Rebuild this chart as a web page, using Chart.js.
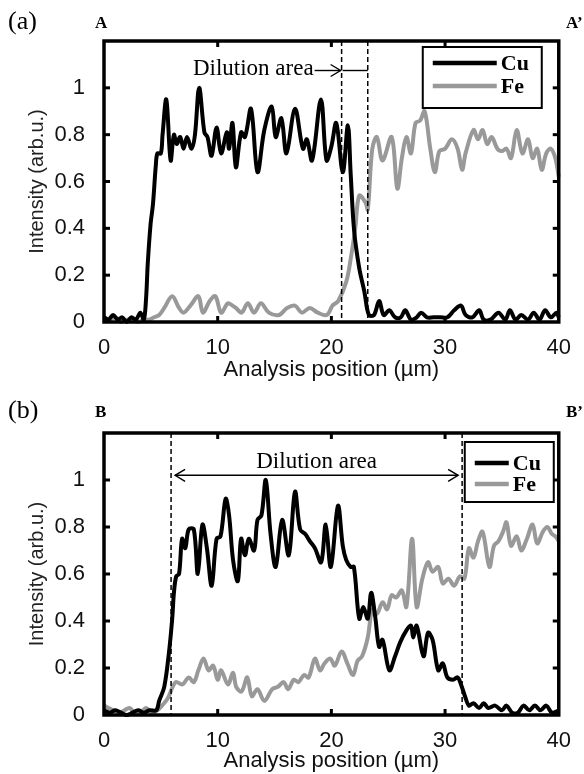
<!DOCTYPE html>
<html>
<head>
  <title>Cu / Fe line scans</title>
  <script src="https://cdn.jsdelivr.net/npm/chart.js"></script>
  <style>
    body { margin: 0; background: #fff; }
    canvas { display: block; }
  </style>
</head>
<body>
  <canvas id="chartA" width="584" height="387"></canvas>
  <canvas id="chartB" width="584" height="387"></canvas>

  <script>
    // ---- panel (a) A-A' ----
    var cuAx = [0, 0.4, 0.8, 1.2, 1.6, 2.0, 2.4, 2.8, 3.2, 3.5, 3.7, 3.85, 4.1, 4.3, 4.56, 4.7, 5.0, 5.15, 5.48, 5.86,
      6.15, 6.4, 6.7, 7.0, 7.3, 7.7, 8.0, 8.37, 8.83, 9.1, 9.46, 9.9, 10.3, 10.8, 11.0, 11.3, 11.6, 12.06, 12.4, 12.93,
      13.5, 14.1, 14.75, 15.1, 15.6, 16.05, 16.8, 17.5, 17.84, 18.3, 19.08, 19.57, 20.0, 20.43, 21.0, 21.45, 21.7, 22.0, 22.45, 22.9,
      23.3, 23.75, 24.2, 24.6, 25.1, 25.6, 26.1, 26.5, 27.0, 27.5, 27.9, 28.4, 29.0, 29.6, 30.2, 30.8, 31.4, 31.8, 32.4, 33.0,
      33.4, 34.0, 34.7, 35.3, 35.7, 36.2, 36.7, 37.3, 37.8, 38.3, 38.8, 39.3, 39.8, 40];
    var cuAy = [0.02, 0.01, 0.03, 0.01, 0.02, 0.0, 0.02, 0.01, 0.04, 0.01, 0.1, 0.25, 0.42, 0.5, 0.67, 0.72, 0.72, 0.8, 0.95, 0.69,
      0.8, 0.76, 0.79, 0.74, 0.79, 0.74, 0.8, 1.0, 0.81, 0.79, 0.71, 0.83, 0.72, 0.81, 0.74, 0.85, 0.66, 0.81, 0.79, 0.91,
      0.64, 0.82, 0.92, 0.79, 0.87, 0.72, 0.91, 0.74, 0.78, 0.69, 0.95, 0.69, 0.75, 0.85, 0.64, 0.84, 0.63, 0.39, 0.23, 0.13,
      0.03, 0.03, 0.09, 0.03, 0.05, 0.02, 0.02, 0.05, 0.01, 0.02, 0.04, 0.02, 0.02, 0.02, 0.02, 0.05, 0.07, 0.03, 0.02, 0.05,
      0.01, 0.01, 0.04, 0.01, 0.05, 0.01, 0.03, 0.01, 0.04, 0.01, 0.05, 0.02, 0.04, 0.02];

    var feAx = [0, 0.5, 1.0, 1.5, 2.0, 2.5, 3.0, 3.5, 4.0, 4.4, 4.85, 5.3, 6.0, 6.6, 7.0, 7.6, 8.3, 8.7, 9.3, 9.8,
      10.3, 10.9, 11.3, 11.6, 12.1, 12.65, 13.2, 13.8, 14.5, 15.4, 16.1, 16.8, 17.4, 18.1, 18.8, 19.6, 20.1, 20.6, 21.3, 21.7,
      22.1, 22.45, 23.0, 23.2, 23.6, 24.0, 24.5, 25.3, 25.8, 26.2, 26.6, 27.0, 27.4, 27.8, 28.2, 28.7, 29.1, 29.5, 30.0, 30.6,
      31.1, 31.5, 31.8, 32.5, 32.9, 33.3, 33.7, 34.1, 34.6, 35.0, 35.4, 35.8, 36.3, 36.8, 37.3, 37.7, 38.1, 38.5, 38.9, 39.3,
      39.7, 40];
    var feAy = [0.02, 0.01, 0.02, 0.0, 0.01, 0.01, 0.0, 0.01, 0.01, 0.02, 0.03, 0.06, 0.11, 0.06, 0.04, 0.07, 0.11, 0.04, 0.09, 0.11,
      0.04, 0.08, 0.07, 0.06, 0.04, 0.08, 0.04, 0.08, 0.04, 0.03, 0.06, 0.07, 0.04, 0.06, 0.04, 0.03, 0.07, 0.09, 0.17, 0.27,
      0.4, 0.54, 0.51, 0.48, 0.74, 0.79, 0.69, 0.79, 0.57, 0.7, 0.79, 0.72, 0.85, 0.86, 0.9, 0.74, 0.64, 0.73, 0.74, 0.78,
      0.74, 0.65, 0.72, 0.82, 0.78, 0.82, 0.76, 0.79, 0.74, 0.73, 0.74, 0.7, 0.82, 0.72, 0.78, 0.7, 0.74, 0.65, 0.72, 0.74,
      0.7, 0.62];

    // ---- panel (b) B-B' ----
    var cuBx = [0, 0.5, 1.0, 1.5, 2.0, 2.5, 3.0, 3.5, 4.0, 4.6, 4.85, 5.3, 5.7, 6.0, 6.15, 6.35, 6.6, 6.87, 7.15, 7.45,
      7.9, 8.25, 8.66, 9.05, 9.47, 9.9, 10.25, 10.7, 11.0, 11.35, 11.77, 12.06, 12.4, 12.73, 13.2, 13.5, 13.85, 14.23, 14.65, 15.1,
      15.67, 16.25, 16.8, 17.25, 17.7, 18.1, 18.55, 19.1, 19.5, 19.95, 20.58, 21.0, 21.3, 21.7, 21.98, 22.45, 22.8, 23.2, 23.5, 23.85,
      24.2, 24.5, 25.1, 25.6, 26.06, 26.6, 27.0, 27.2, 27.5, 28.1, 28.5, 28.9, 29.4, 29.8, 30.2, 30.7, 31.1, 31.4, 31.75, 32.1,
      32.5, 33.0, 33.4, 33.8, 34.4, 35.0, 35.4, 35.9, 36.4, 36.9, 37.4, 37.9, 38.4, 38.9, 39.4, 40];
    var cuBy = [0.02, 0.01, 0.02, 0.01, 0.0, 0.01, 0.02, 0.01, 0.02, 0.02, 0.06, 0.12, 0.26, 0.41, 0.52, 0.59, 0.6, 0.75, 0.71, 0.79,
      0.79, 0.6, 0.81, 0.71, 0.55, 0.75, 0.76, 0.92, 0.85, 0.66, 0.57, 0.75, 0.68, 0.75, 0.7, 0.83, 0.85, 1.0, 0.77, 0.63,
      0.83, 0.68, 0.95, 0.79, 0.77, 0.74, 0.71, 0.65, 0.81, 0.63, 0.89, 0.72, 0.66, 0.63, 0.63, 0.41, 0.46, 0.41, 0.52, 0.42,
      0.29, 0.32, 0.19, 0.25, 0.31, 0.36, 0.38, 0.33, 0.38, 0.25, 0.35, 0.32, 0.19, 0.22, 0.16, 0.15, 0.16, 0.13, 0.08, 0.04,
      0.05, 0.03, 0.05, 0.03, 0.04, 0.02, 0.04, 0.01, 0.01, 0.04, 0.02, 0.04, 0.02, 0.04, 0.01, 0.02];

    var feBx = [0, 0.4, 0.8, 1.4, 1.8, 2.25, 2.7, 3.2, 3.7, 4.2, 4.7, 5.1, 5.6, 6.3, 6.9, 7.45, 7.9, 8.3, 8.75, 9.2,
      9.6, 10.0, 10.3, 10.9, 11.35, 11.63, 12.1, 12.6, 13.0, 13.5, 14.1, 14.8, 15.3, 15.8, 16.2, 16.7, 17.1, 17.6, 18.0, 18.55,
      19.0, 19.4, 19.9, 20.3, 20.9, 21.4, 21.9, 22.3, 22.7, 23.2, 23.6, 24.0, 24.5, 24.9, 25.3, 25.7, 26.2, 26.6, 27.1, 27.5,
      28.0, 28.5, 28.9, 29.4, 29.8, 30.3, 30.8, 31.3, 31.7, 32.1, 32.5, 32.9, 33.3, 33.9, 34.3, 34.7, 35.1, 35.4, 35.8, 36.3,
      36.7, 37.2, 37.7, 38.1, 38.6, 39.0, 39.4, 39.7, 40];
    var feBy = [0.04, 0.03, 0.02, 0.01, 0.02, 0.03, 0.01, 0.01, 0.03, 0.01, 0.02, 0.04, 0.07, 0.14, 0.13, 0.16, 0.14, 0.19, 0.24, 0.19,
      0.21, 0.15, 0.19, 0.13, 0.18, 0.12, 0.1, 0.16, 0.08, 0.11, 0.06, 0.11, 0.12, 0.14, 0.11, 0.15, 0.14, 0.17, 0.16, 0.24,
      0.19, 0.22, 0.24, 0.21, 0.27, 0.22, 0.17, 0.23, 0.25, 0.33, 0.45, 0.43, 0.48, 0.45, 0.51, 0.5, 0.53, 0.46, 0.75, 0.46,
      0.58, 0.65, 0.61, 0.63, 0.56, 0.58, 0.55, 0.59, 0.58, 0.71, 0.67, 0.74, 0.78, 0.63, 0.72, 0.74, 0.78, 0.82, 0.72, 0.76,
      0.7, 0.75, 0.81, 0.73, 0.78, 0.8, 0.77, 0.76, 0.74];

    // boundaries of the dilution area (µm)
    var dilutionA = [20.9, 23.2];
    var dilutionB = [5.9, 31.5];

    var xTicks = [0, 10, 20, 30, 40];
    var yTicks = [0, 0.2, 0.4, 0.6, 0.8, 1];

    function pts(xs, ys) {
      return xs.map(function (x, i) { return { x: x, y: ys[i] }; });
    }

    var sans = 'Liberation Sans, Arial, sans-serif';
    var serif = 'Liberation Serif, Times New Roman, serif';

    function line(ctx, x1, y1, x2, y2) {
      ctx.beginPath(); ctx.moveTo(x1, y1); ctx.lineTo(x2, y2); ctx.stroke();
    }
    function head(ctx, x, y, dir) {
      // open arrow head, dir = 1 points right, -1 points left
      ctx.beginPath();
      ctx.moveTo(x - dir * 10, y - 6); ctx.lineTo(x, y); ctx.lineTo(x - dir * 10, y + 6);
      ctx.stroke();
    }

    // frame, inner ticks, dashed lines, arrows, legend and letters
    var decor = {
      id: 'decor',
      afterDatasetsDraw: function (chart, args, o) {
        var ctx = chart.ctx, a = chart.chartArea, x = chart.scales.x, y = chart.scales.y;
        ctx.save();
        ctx.strokeStyle = '#000';
        ctx.fillStyle = '#000';

        // dashed boundaries
        ctx.lineWidth = 1.5;
        ctx.setLineDash([5, 3]);
        o.dilution.forEach(function (v) {
          var px = x.getPixelForValue(v);
          line(ctx, px, a.top, px, a.bottom);
        });
        ctx.setLineDash([]);

        // dilution arrow + label
        ctx.lineWidth = 1.4;
        var d0 = x.getPixelForValue(o.dilution[0]), d1 = x.getPixelForValue(o.dilution[1]);
        var ay = y.getPixelForValue(o.arrowY);
        ctx.font = o.textSize + 'px ' + serif;
        ctx.textBaseline = 'middle';
        if (o.oneSided) {
          var start = d0 - 27;
          line(ctx, start, ay, d0 - 1, ay);
          head(ctx, d0 - 1, ay, 1);
          line(ctx, d0 + 1, ay, d1, ay);
          ctx.textAlign = 'right';
          ctx.fillText('Dilution area', start - 1, y.getPixelForValue(o.textY));
        } else {
          line(ctx, d0 + 4, ay, d1 - 4, ay);
          head(ctx, d0 + 4, ay, -1);
          head(ctx, d1 - 4, ay, 1);
          ctx.textAlign = 'center';
          ctx.fillText('Dilution area', (d0 + d1) / 2, y.getPixelForValue(o.textY));
        }

        // frame
        ctx.lineWidth = 3.5;
        ctx.strokeRect(a.left, a.top, a.right - a.left, a.bottom - a.top);

        // inward tick marks
        ctx.lineWidth = 3;
        xTicks.slice(1, -1).forEach(function (v) {
          var px = x.getPixelForValue(v);
          line(ctx, px, a.bottom, px, a.bottom - 6);
          line(ctx, px, a.top, px, a.top + 6);
        });
        yTicks.slice(1).forEach(function (v) {
          var py = y.getPixelForValue(v);
          line(ctx, a.left, py, a.left + 6, py);
          line(ctx, a.right, py, a.right - 6, py);
        });

        // legend box
        var L = o.legend;
        var bx = a.right - L.fromRight, by = a.top + L.fromTop;
        ctx.fillStyle = '#fff';
        ctx.fillRect(bx, by, L.w, L.h);
        ctx.lineWidth = 2;
        ctx.strokeRect(bx, by, L.w, L.h);
        ctx.font = 'bold 22px ' + serif;
        ctx.textAlign = 'left';
        chart.data.datasets.forEach(function (ds, i) {
          var ly = by + L.rows[i];
          ctx.strokeStyle = ds.borderColor;
          ctx.lineWidth = 4.5;
          line(ctx, bx + L.lineX0, ly, bx + L.lineX1, ly);
          ctx.fillStyle = '#000';
          ctx.fillText(ds.label, bx + L.lineX1 + 4, ly + 1);
        });

        // panel letter and section end points
        ctx.fillStyle = '#000';
        ctx.textBaseline = 'middle';
        ctx.font = '26px ' + serif;
        ctx.textAlign = 'left';
        ctx.fillText(o.panel, 8, o.letterY);
        ctx.font = 'bold 17px ' + serif;
        ctx.fillText(o.ends[0], 95, o.letterY + 2);
        ctx.fillText(o.ends[1], 566, o.letterY + 2);
        ctx.restore();
      }
    };

    function makeChart(id, cu, fe, deco, padTop, xHeight, titlePad) {
      return new Chart(document.getElementById(id).getContext('2d'), {
        type: 'line',
        data: {
          datasets: [
            { label: 'Cu', data: cu, borderColor: '#000', borderWidth: 4, pointRadius: 0, tension: 0.35, fill: false, clip: 4 },
            { label: 'Fe', data: fe, borderColor: '#999', borderWidth: 4, pointRadius: 0, tension: 0.35, fill: false, clip: 4 }
          ]
        },
        options: {
          responsive: false,
          animation: false,
          layout: { padding: { top: padTop, right: 12, left: 0, bottom: 0 } },
          plugins: { legend: { display: false }, tooltip: { enabled: false }, decor: deco },
          scales: {
            x: {
              type: 'linear', min: 0, max: 40,
              ticks: { stepSize: 10, color: '#111', padding: 13, font: { family: sans, size: 22 } },
              grid: { display: false, drawTicks: false },
              border: { display: false },
              title: { display: true, text: 'Analysis position (µm)', color: '#111', font: { family: sans, size: 22 }, padding: { top: 0, bottom: titlePad } },
              afterFit: function (s) { s.height = xHeight; }
            },
            y: {
              min: 0, max: 1.2,
              ticks: {
                stepSize: 0.2, color: '#111', padding: 19, font: { family: sans, size: 22 },
                callback: function (v) { return v > 1.05 ? '' : String(Math.round(v * 10) / 10); }
              },
              grid: { display: false, drawTicks: false },
              border: { display: false },
              title: { display: true, text: 'Intensity (arb.u.)', color: '#222', font: { family: sans, size: 20 }, padding: { top: 25, bottom: 0 } },
              afterFit: function (s) { s.width = 104; }
            }
          }
        },
        plugins: [decor]
      });
    }

    makeChart('chartA', pts(cuAx, cuAy), pts(feAx, feAy), {
      panel: '(a)', ends: ['A', 'A\u2019'], letterY: 22,
      dilution: dilutionA, oneSided: true, arrowY: 1.074, textY: 1.08, textSize: 23,
      legend: { fromRight: 136, fromTop: 6, w: 119, h: 61, rows: [16, 39], lineX0: 10, lineX1: 74 }
    }, 41, 65, 4);

    makeChart('chartB', pts(cuBx, cuBy), pts(feBx, feBy), {
      panel: '(b)', ends: ['B', 'B\u2019'], letterY: 24,
      dilution: dilutionB, oneSided: false, arrowY: 1.02, textY: 1.075, textSize: 23,
      legend: { fromRight: 94, fromTop: 9, w: 89, h: 60, rows: [21, 42], lineX0: 10, lineX1: 44 }
    }, 46, 59, 0);
  </script>
</body>
</html>
